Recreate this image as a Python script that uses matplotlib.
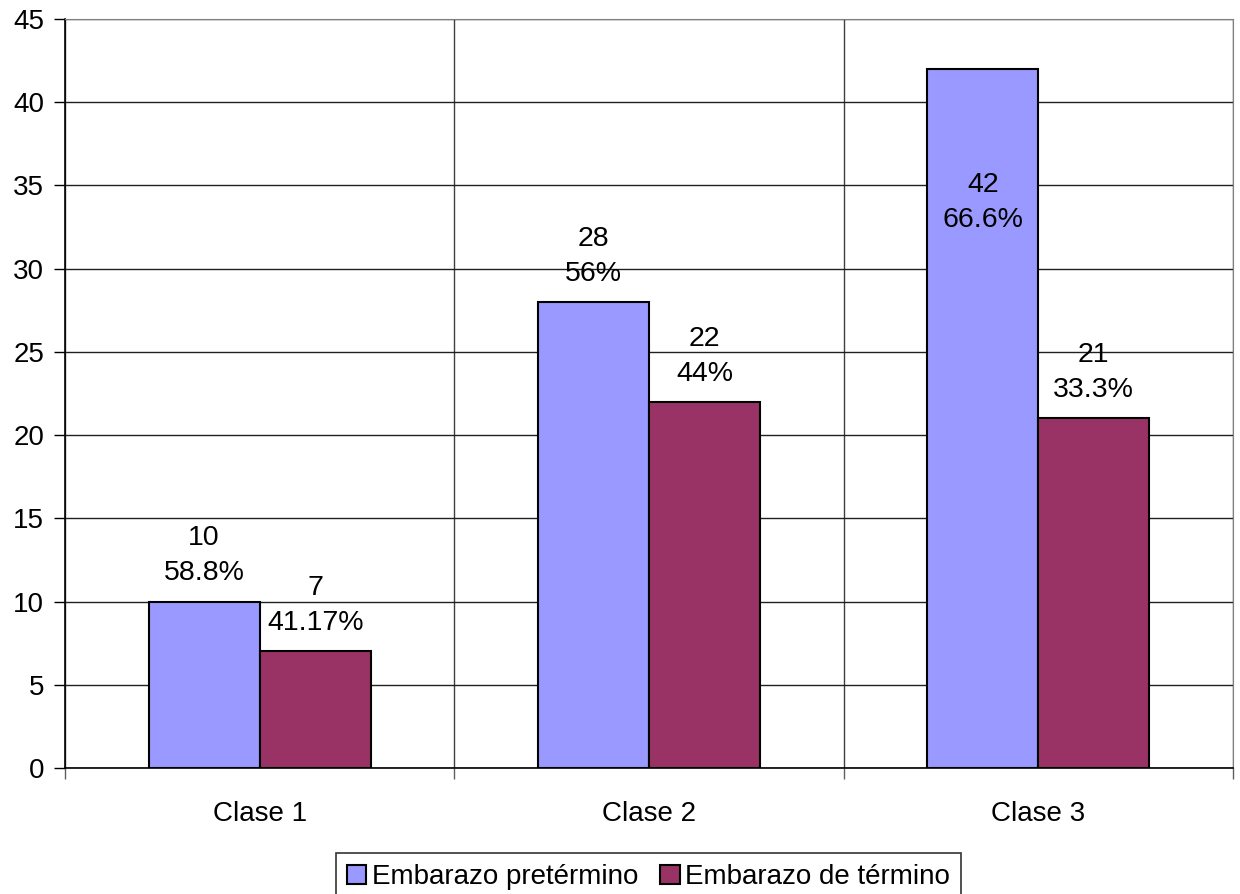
import numpy as np
import matplotlib.pyplot as plt
from matplotlib.patches import Patch

plt.rcParams['font.family'] = ['Liberation Sans', 'DejaVu Sans']

# data
clases = ['Clase 1', 'Clase 2', 'Clase 3']
pretermino = [10, 28, 42]
termino = [7, 22, 21]
pct_pre = ['58.8%', '56%', '66.6%']
pct_term = ['41.17%', '44%', '33.3%']
series_names = ['Embarazo pretérmino', 'Embarazo de término']

col_pre = '#9999FF'
col_term = '#993366'

fig = plt.figure(figsize=(12.4, 8.94), dpi=100)
ax = fig.add_axes([65/1240, 1-768/894, (1233-65)/1240, (768-19)/894])

x = np.arange(len(clases))
w = 0.285
ax.bar(x - w/2, pretermino, w, color=col_pre, edgecolor='black', linewidth=1.5, zorder=3)
ax.bar(x + w/2, termino, w, color=col_term, edgecolor='black', linewidth=1.5, zorder=3)

ymax = 45
for xs, vals, pcts in [(x - w/2, pretermino, pct_pre), (x + w/2, termino, pct_term)]:
    for xi, v, p in zip(xs, vals, pcts):
        txt = f'{v}\n{p}'
        if v + 6 > ymax:
            # Excel pushed this label into the bar
            ax.annotate(txt, (xi, v), xytext=(0, -118), textcoords='offset points',
                        ha='center', va='bottom', fontsize=20.5, linespacing=1.45, zorder=4)
        else:
            ax.annotate(txt, (xi, v), xytext=(0, 11), textcoords='offset points',
                        ha='center', va='bottom', fontsize=20.5, linespacing=1.45, zorder=4)

ax.set_xlim(-0.5, 2.5)
ax.set_ylim(0, ymax)
ax.set_yticks(np.arange(0, 46, 5))
ax.set_xticks(x)
ax.set_xticklabels(clases)
ax.set_xticks([-0.5, 0.5, 1.5, 2.5], minor=True)
ax.tick_params(axis='x', which='major', length=0, labelsize=20, pad=24)
ax.tick_params(axis='x', which='minor', length=8, width=1, direction='out', color='#606060')
ax.tick_params(axis='y', which='major', length=8, width=1, direction='out', labelsize=20, pad=7)

ax.grid(axis='y', which='major', color='#202020', linewidth=1, zorder=0)
ax.grid(axis='x', which='minor', color='#404040', linewidth=1, zorder=0)
ax.set_axisbelow(True)

ax.spines['top'].set_color('#808080')
ax.spines['right'].set_color('#808080')
ax.spines['left'].set_linewidth(1.2)
ax.spines['bottom'].set_linewidth(1.2)

handles = [Patch(facecolor=col_pre, edgecolor='black', linewidth=1.5),
           Patch(facecolor=col_term, edgecolor='black', linewidth=1.5)]
leg = fig.legend(handles, series_names, loc='upper center', bbox_to_anchor=(648.5/1240, 1-853/894),
                 ncol=2, fontsize=20, frameon=True, fancybox=False, edgecolor='black',
                 handlelength=0.7, handleheight=0.7, handletextpad=0.2, columnspacing=0.8,
                 borderpad=0.4, borderaxespad=0)
leg.get_frame().set_linewidth(1.2)

fig.savefig('out.png', dpi=100)
